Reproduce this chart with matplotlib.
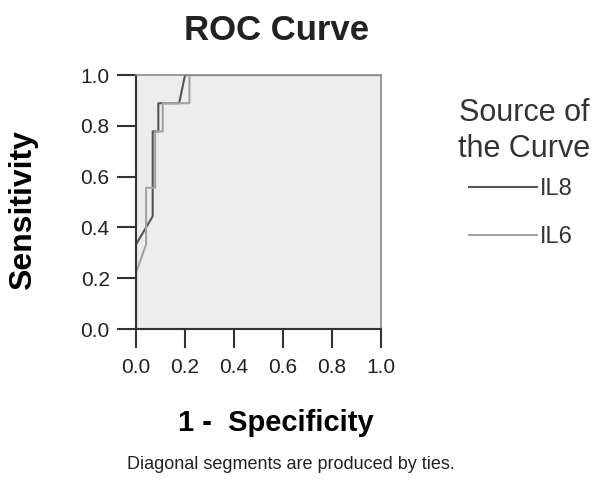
import matplotlib.pyplot as plt

# ROC points (1 - specificity, sensitivity)
il8_fpr = [0.0, 0.0, 0.068, 0.068, 0.091, 0.091, 0.176, 0.2, 1.0]
il8_tpr = [0.0, 0.333, 0.444, 0.778, 0.778, 0.889, 0.889, 1.0, 1.0]
il6_fpr = [0.0, 0.0, 0.041, 0.041, 0.078, 0.078, 0.109, 0.109, 0.218, 0.218, 1.0]
il6_tpr = [0.0, 0.222, 0.333, 0.556, 0.556, 0.778, 0.778, 0.889, 0.889, 1.0, 1.0]
ticks = [0.0, 0.2, 0.4, 0.6, 0.8, 1.0]

plt.rcParams["font.family"] = ["Liberation Sans", "DejaVu Sans"]

fig = plt.figure(figsize=(5.94, 4.86), dpi=100)
ax = fig.add_axes([0.229, 0.323, 0.4125, 0.5226])
ax.set_facecolor("#ededed")

ax.plot(il8_fpr, il8_tpr, color="#555555", lw=1.5, label="IL8")
ax.plot(il6_fpr, il6_tpr, color="#a3a3a3", lw=1.5, label="IL6")

ax.set_xlim(0, 1)
ax.set_ylim(0, 1)
ax.set_xticks(ticks)
ax.set_yticks(ticks)
ax.set_xticklabels(["%.1f" % t for t in ticks])
ax.set_yticklabels(["%.1f" % t for t in ticks])
ax.tick_params(length=14, width=1.5, color="#333333", labelsize=15, pad=5,
               labelcolor="#222222")
ax.tick_params(axis="x", pad=7)
for s in ["left", "bottom"]:
    ax.spines[s].set_color("#333333")
    ax.spines[s].set_linewidth(1.5)
for s in ["top", "right"]:
    ax.spines[s].set_color("#8a8a8a")
    ax.spines[s].set_linewidth(1.2)

ax.set_xlabel("1 -  Specificity", fontsize=21, fontweight="bold")
ax.xaxis.set_label_coords(0.571, -0.315)
ax.set_ylabel("Sensitivity", fontsize=23, fontweight="bold")
ax.yaxis.set_label_coords(-0.40, 0.468)
fig.text(0.465, 0.938, "ROC Curve", fontsize=25, fontweight="bold",
         ha="center", va="center", color="#222222")

fig.text(0.883, 0.73, "Source of\nthe Curve", fontsize=22, ha="center",
         va="center", linespacing=1.25, color="#333333")
leg = ax.legend(loc="upper left", bbox_to_anchor=(1.32, 0.63), frameon=False,
                prop={"size": 17}, handlelength=2.9,
                handletextpad=0.1, labelspacing=1.1, borderaxespad=0)
for t in leg.get_texts():
    t.set_color("#333333")

fig.text(0.49, 0.045, "Diagonal segments are produced by ties.", fontsize=13,
         ha="center", va="center", color="#222222")

fig.savefig("out.png", dpi=100)
